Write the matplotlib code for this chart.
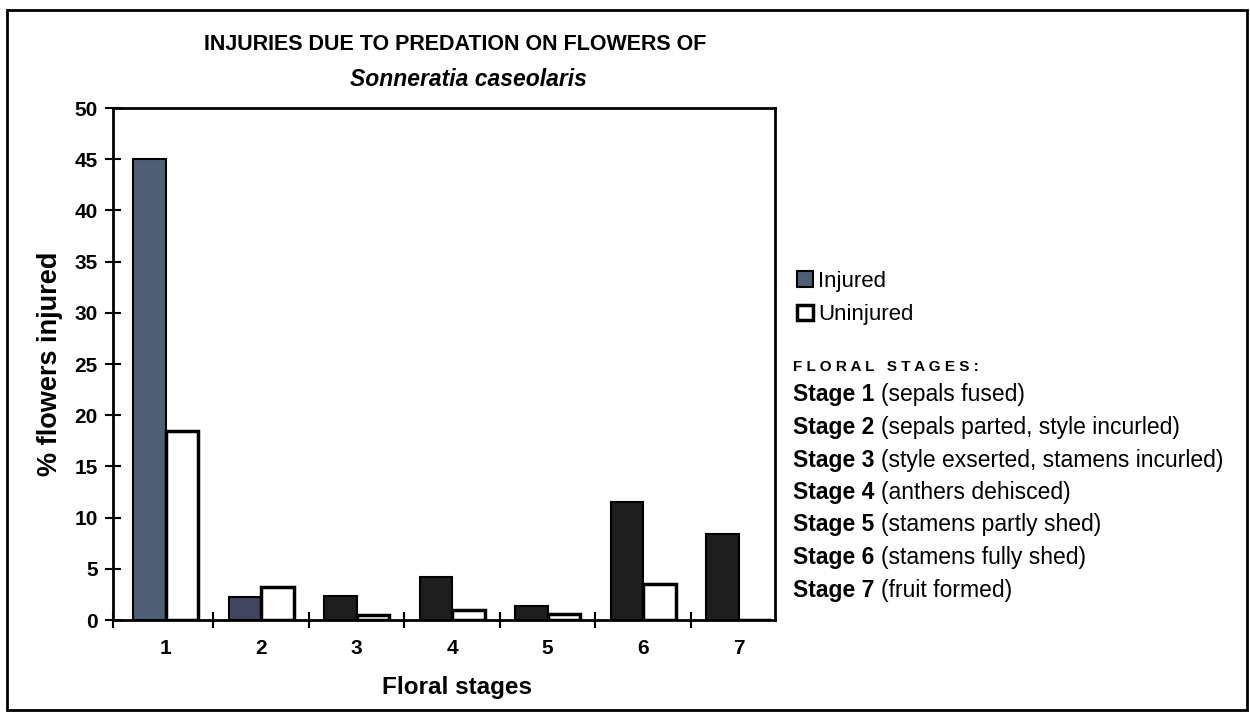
import matplotlib
matplotlib.use("Agg")
import matplotlib.pyplot as plt
from matplotlib.patches import Rectangle

plt.rcParams['font.family'] = ['Liberation Sans', 'DejaVu Sans']

stages = [1, 2, 3, 4, 5, 6, 7]
injured = [45.0, 2.2, 2.3, 4.2, 1.4, 11.5, 8.4]
uninjured = [18.5, 3.2, 0.5, 1.0, 0.6, 3.5, 0.0]
injured_colors = ['#4f6076', '#41465e', '#1e1e1e', '#1e1e1e', '#1e1e1e', '#1e1e1e', '#1e1e1e']

stage_names = ["Stage 1", "Stage 2", "Stage 3", "Stage 4", "Stage 5", "Stage 6", "Stage 7"]
stage_desc = ["(sepals fused)", "(sepals parted, style incurled)",
              "(style exserted, stamens incurled)", "(anthers dehisced)",
              "(stamens partly shed)", "(stamens fully shed)", "(fruit formed)"]

W, H = 1250, 724
fig = plt.figure(figsize=(W / 100, H / 100), dpi=100)
ax = fig.add_axes([113 / W, 1 - 620 / H, 662 / W, 512 / H])

w = 0.34
xs = [s - w / 2 for s in stages]
xu = [s + w / 2 for s in stages]
ax.bar(xs, injured, width=w, color=injured_colors, edgecolor='black', linewidth=1.5, label='Injured')
ax.bar(xu, uninjured, width=w, color='white', edgecolor='black', linewidth=2.5, label='Uninjured')

ax.set_xlim(0.45, 7.38)
ax.set_ylim(0, 50)
ax.set_yticks(range(0, 51, 5))
ax.set_xticks([0.45] + [s + 0.5 for s in stages[:-1]])
ax.set_xticklabels([])
ax.set_xticks(stages, minor=True)
ax.set_xticklabels([str(s) for s in stages], minor=True)
ax.tick_params(axis='x', which='minor', length=0, pad=14, labelsize=15)
ax.tick_params(axis='x', which='major', direction='inout', length=12, width=1.5)
ax.tick_params(axis='y', direction='inout', length=12, width=1.5, labelsize=15, pad=5)
for lbl in ax.get_xticklabels(minor=True) + ax.get_yticklabels():
    lbl.set_fontweight('bold')
for sp in ax.spines.values():
    sp.set_linewidth(2)

ax.set_xlabel("Floral stages", fontsize=17.5, fontweight='bold')
ax.set_ylabel("% flowers injured", fontsize=19.5, fontweight='bold')
ax.xaxis.set_label_coords(0.52, -0.11)
ax.yaxis.set_label_coords(-0.075, 0.5)

fig.text(455 / W, 1 - 45 / H, "INJURIES DUE TO PREDATION ON FLOWERS OF", ha='center', va='center',
         fontsize=15.5, fontweight='bold')
fig.text(468 / W, 1 - 80 / H, "Sonneratia caseolaris", ha='center', va='center',
         fontsize=16.5, fontweight='bold', style='italic')

fig.legend(loc='upper left', bbox_to_anchor=(797 / W, 1 - 271 / H), frameon=False, fontsize=16,
           borderpad=0, borderaxespad=0, handlelength=0.7, handleheight=0.7,
           handletextpad=0.25, labelspacing=0.55)

fig.text(793 / W, 1 - 367 / H, "F L O R A L   S T A G E S :", fontsize=11, fontweight='bold', va='center')
for i in range(len(stage_names)):
    y = 1 - (395 + i * 32.5) / H
    t = fig.text(793 / W, y, stage_names[i], fontsize=16.5, fontweight='bold', va='center')
    ax.annotate(stage_desc[i], xy=(1, 0.5), xycoords=t, xytext=(5, 0), textcoords='offset points',
                fontsize=16.5, va='center', annotation_clip=False)

fig.add_artist(Rectangle((7 / W, 1 - 710 / H), 1240 / W, 700 / H, transform=fig.transFigure,
                         fill=False, edgecolor='black', linewidth=2))

fig.savefig("out.png", dpi=100)
